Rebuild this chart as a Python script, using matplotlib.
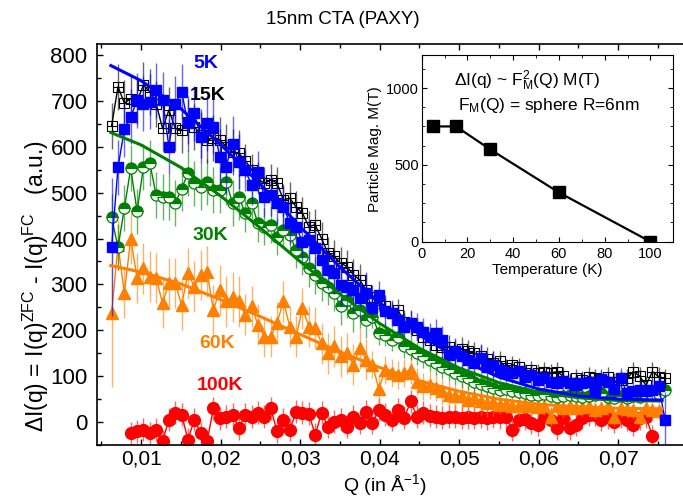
import matplotlib
matplotlib.use("Agg")
import matplotlib.pyplot as plt
import numpy as np
from matplotlib.ticker import MultipleLocator, FuncFormatter

plt.rcParams["font.family"] = ["Liberation Sans", "DejaVu Sans"]
plt.rcParams["mathtext.fontset"] = "custom"
plt.rcParams["mathtext.rm"] = "Liberation Sans"
plt.rcParams["mathtext.it"] = "Liberation Sans:italic"
plt.rcParams["mathtext.bf"] = "Liberation Sans:bold"

nan = np.nan

# measured Q grid (1/A)
q = [0.0063, 0.0071, 0.0079, 0.0087, 0.0095, 0.0103, 0.0111, 0.0119, 0.0127, 0.0135,
     0.0143, 0.0151, 0.0159, 0.0167, 0.0175, 0.0183, 0.0191, 0.0199, 0.0207, 0.0215,
     0.0223, 0.0231, 0.0239, 0.0247, 0.0255, 0.0263, 0.0271, 0.0279, 0.0287, 0.0295,
     0.0303, 0.0311, 0.0319, 0.0327, 0.0335, 0.0343, 0.0351, 0.0359, 0.0367, 0.0375,
     0.0383, 0.0391, 0.0399, 0.0407, 0.0415, 0.0423, 0.0431, 0.0439, 0.0447, 0.0455,
     0.0463, 0.0471, 0.0479, 0.0487, 0.0495, 0.0503, 0.0511, 0.0519, 0.0527, 0.0535,
     0.0543, 0.0551, 0.0559, 0.0567, 0.0575, 0.0583, 0.0591, 0.0599, 0.0607, 0.0615,
     0.0623, 0.0631, 0.0639, 0.0647, 0.0655, 0.0663, 0.0671, 0.0679, 0.0687, 0.0695,
     0.0703, 0.0711, 0.0719, 0.0727, 0.0735, 0.0743, 0.0751, 0.0759]

d5k = [382, 555, 638, 665, 701, 694, 698, 723, 702, 600,
       694, 720, 651, 673, 622, 651, 644, 578, 556, 607,
       567, 549, 517, 546, 491, 495, 477, 469, 434, 426,
       393, 397, 379, 353, 332, 325, 299, 295, 288, 270,
       281, 248, 277, 241, 237, 223, 208, 215, 208, 197,
       186, 194, 179, 146, 154, 143, 136, 129, 140, 121,
       125, 114, 110, 107, 112, 99, 103, 92, 95, 88,
       85, 90, 85, 80, 85, 88, 70, 94, 88, 72,
       96, 64, 67, 70, 67, 70, 78, 5]
e5k = [150] + [60] * 20 + [45] * 20 + [30] * 20 + [22] * 26 + [60]

d15k = [646, 731, 695, 705, 700, 734, 720, 694, 640, 680,
        640, 636, 655, 644, 626, 615, 619, 615, 600, 589,
        586, 570, 550, 531, 520, 528, 521, 484, 488, 469,
        455, 426, 430, 400, 368, 361, 346, 339, 321, 310,
        288, 273, 266, 252, 237, 244, 219, 216, 201, 186,
        179, 168, 164, 164, 154, 160, 154, 150, 143, 138,
        129, 134, 118, 125, 120, 107, 114, 107, 110, 107,
        110, 100, 85, 96, 92, 99, 96, 92, 99, 88,
        92, 95, 110, 100, 80, 110, 99, 95]
e15k = [50] * 21 + [35] * 20 + [25] * 20 + [20] * 27

d30k = [446, 381, 466, 553, 459, 556, 564, 495, 491, 491,
        477, 509, 542, 520, 513, 524, 506, 506, 524, 477,
        491, 455, 477, 433, 426, 430, 404, 419, 408, 375,
        360, 335, 320, 303, 295, 281, 252, 266, 237, 245,
        223, 230, 194, 190, 179, 186, 165, 160, 150, 143,
        136, 128, 120, 115, 107, 100, 95, 88, 84, 78,
        75, 70, 72, 67, 65, 63, 60, 58, 62, 56,
        55, 56, 58, 56, 54, 56, 60, 63, 55, 52,
        57, 52, 56, 54, 58, 60, 62, 70]
e30k = [50] * 21 + [40] * 20 + [25] * 20 + [15] * 27

d60k = [237, 386, 281, 400, 314, 335, 317, 314, 259, 303,
        303, 255, 324, 295, 321, 328, 244, 288, 263, 273,
        263, 234, 252, 212, 186, 186, 216, 263, 208, 186,
        248, 208, 205, 172, 150, 165, 143, 150, 125, 161,
        136, 125, 72, 114, 107, 103, 107, 114, 88, 78,
        81, 75, 67, 60, 56, 56, 49, 52, 45, 41,
        44, 38, 40, 36, 34, 38, 34, 32, 36, 12,
        34, 30, 34, 30, 33, 34, 27, 30, 36, 12,
        30, 28, 27, 10, 30, 27, 25, nan]
e60k = [160] + [55] * 20 + [45] * 20 + [30] * 20 + [20] * 27

d100k = [nan, nan, nan, -24, -20, -17, -24, -17, -42, 5,
         20, 16, -38, 5, -24, -42, 30, 8, 12, 16,
         -13, 16, 12, 20, 12, 30, -20, 5, -17, 23,
         20, 18, -28, 20, -10, 1, 5, -10, 12, -2,
         23, -2, 27, 16, 5, 27, 9, 45, 12, 20,
         14, 12, 9, 12, 12, 9, 10, 9, 12, 8,
         12, 10, 12, -17, 5, 7, -2, -6, 12, 5,
         -13, 9, -13, -6, 9, 16, 16, 5, 10, 1,
         12, 5, -6, 8, 12, -31, nan, nan]
e100k = [25] * 88

# sphere form factor fits
q_fit = [0.0062, 0.010, 0.015, 0.020, 0.025, 0.030, 0.035, 0.040,
         0.045, 0.050, 0.055, 0.060, 0.065, 0.070, 0.0755]
fit5k = [777, 744, 683, 605, 518, 426, 338, 259, 191, 137, 98, 72, 57, 50, 48]
fit30k = [631, 604, 555, 493, 423, 350, 279, 215, 161, 118, 86, 65, 53, 47, 46]
fit60k = [341, 327, 301, 267, 230, 191, 153, 119, 90, 67, 50, 39, 33, 30, 29]

x_ticks = [0.01, 0.02, 0.03, 0.04, 0.05, 0.06, 0.07]

# inset: particle magnetisation vs temperature
temp = [5, 15, 30, 60, 100]
mag = [750, 750, 600, 320, 0]

BLUE = "#0000FF"
GREEN = "#008000"
ORANGE = "#FF8000"
RED = "#FF0000"

W, H = 683, 497
fig = plt.figure(figsize=(W / 100, H / 100), dpi=100)
ax = fig.add_axes([0.1425, 0.1046, 0.879, 0.8069])

def series(y, err, color, zorder, **mk):
    ax.errorbar(q, y, yerr=err, fmt="none", ecolor=color, elinewidth=1.0,
                alpha=0.6, zorder=zorder)
    ax.plot(q, y, "-", color=color, lw=1.0, zorder=zorder + 0.1, **mk)

series(d100k, e100k, RED, 2, marker="o", ms=8.5, mfc=RED, mec=RED)
series(d60k, e60k, ORANGE, 3, marker="^", ms=9, mfc=ORANGE, mec=ORANGE)
series(d30k, e30k, GREEN, 4, marker="o", ms=8, fillstyle="top",
       mfc=GREEN, mfcalt="white", mec=GREEN, mew=0.9)
series(d15k, e15k, "black", 5, marker="s", ms=7, mfc="none", mec="black", mew=0.8)
ax.plot(q, d15k, "+", color="black", ms=7, mew=0.8, zorder=5.2)
series(d5k, e5k, BLUE, 6, marker="s", ms=7, mfc=BLUE, mec=BLUE)

ax.plot(q_fit, fit60k, color=ORANGE, lw=2.2, zorder=8)
ax.plot(q_fit, fit30k, color=GREEN, lw=2.2, zorder=8)
ax.plot(q_fit, fit5k, color=BLUE, lw=2.2, zorder=8)

ax.set_xlim(0.0045, 0.080)
ax.set_ylim(-50, 824)
ax.set_xticks(x_ticks)
ax.xaxis.set_minor_locator(MultipleLocator(0.005))
ax.yaxis.set_major_locator(MultipleLocator(100))
ax.yaxis.set_minor_locator(MultipleLocator(50))
ax.xaxis.set_major_formatter(FuncFormatter(lambda v, p: f"{v:.2f}".replace(".", ",")))
ax.tick_params(which="both", direction="in", top=True, right=True, width=1.0,
               labelsize=16)
ax.tick_params(axis="x", labelsize=15, pad=3)
ax.tick_params(axis="y", pad=7)
ax.tick_params(which="major", length=4.5)
ax.tick_params(which="minor", length=3)
for s in ax.spines.values():
    s.set_linewidth(1.2)

fig.text(343 / W, 1 - 19 / H, "15nm CTA (PAXY)", fontsize=13.5,
         ha="center", va="center")
fig.text(385 / W, 1 - 491.5 / H, "Q (in Å$^{-1}$)", fontsize=14,
         ha="center", va="baseline")
fig.text(36 / W, 1 - 286 / H,
         "ΔI(q) = I(q)$^{\\rm ZFC}$ - I(q)$^{\\rm FC}$   (a.u.)",
         rotation=90, fontsize=16.5, ha="center", va="center")

lab = dict(fontsize=14, fontweight="bold", ha="center", va="center",
           transform=fig.transFigure)
ax.text(206 / W, 1 - 63 / H, "5K", color=BLUE, **lab)
ax.text(208 / W, 1 - 96 / H, "15K", color="black", **lab)
ax.text(210 / W, 1 - 235 / H, "30K", color=GREEN, **lab)
ax.text(217 / W, 1 - 343 / H, "60K", color=ORANGE, **lab)
ax.text(220 / W, 1 - 386 / H, "100K", color=RED, **lab)

# inset
ins = fig.add_axes([0.6174, 0.5125, 0.3684, 0.3769])
ins.plot(temp, mag, "-", color="black", lw=1.6, marker="s", ms=8, mfc="black")
ins.set_xlim(0, 110)
ins.set_ylim(-4, 1215)
ins.xaxis.set_major_locator(MultipleLocator(20))
ins.xaxis.set_minor_locator(MultipleLocator(10))
ins.yaxis.set_major_locator(MultipleLocator(500))
ins.yaxis.set_minor_locator(MultipleLocator(125))
ins.tick_params(which="both", direction="in", top=True, right=True, labelsize=10.5)
ins.tick_params(which="major", length=3.5)
ins.tick_params(which="minor", length=2)
ins.tick_params(axis="y", pad=2)
ins.set_xlabel("Temperature (K)", fontsize=11, labelpad=1)
ins.set_ylabel("Particle Mag. M(T)", fontsize=11, labelpad=3)
ins.text(0.13, 0.86, "ΔI(q) ~ F$^{2}_{\\rm M}$(Q) M(T)", transform=ins.transAxes,
         fontsize=12.5, va="center")
ins.text(0.145, 0.73, "F$_{\\rm M}$(Q) = sphere R=6nm", transform=ins.transAxes,
         fontsize=12.5, va="center")

fig.savefig("out.png", dpi=100)
